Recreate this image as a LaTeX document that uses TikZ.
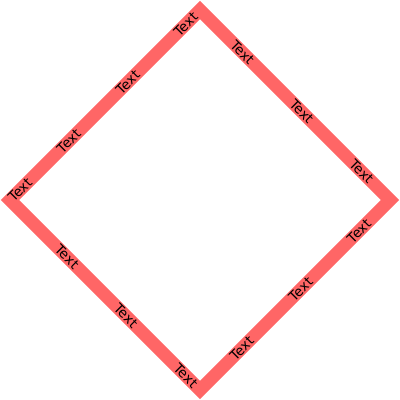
\documentclass[tikz,border=0pt]{standalone}
\usepackage{fontspec}
\setmainfont{DejaVu Sans}
\definecolor{edgered}{HTML}{FF6666}
\tikzset{
  edge/.style={draw=edgered, line width=13pt, line join=miter},
  lbl/.style={font=\fontsize{13.5}{14}\selectfont, inner sep=0pt, sloped}
}
\begin{document}
\begin{tikzpicture}[x=1pt,y=1pt]
\useasboundingbox (0,0) rectangle (400,400);
\coordinate (L) at (10,200);
\coordinate (T) at (200,390);
\coordinate (R) at (390,200);
\coordinate (B) at (200,10);
\draw[edge] (L) -- (T) -- (R) -- (B) -- cycle;
\path (L) -- (T)
  node[lbl,pos=0.053] (t1) {Text}
  node[lbl,pos=0.31] (t2) {Text}
  node[lbl,pos=0.62] (t3) {Text}
  node[lbl,pos=0.925] (t4) {Text};
\path (T) -- (R)
  node[lbl,pos=0.223] (t5) {Text}
  node[lbl,pos=0.535] (t6) {Text}
  node[lbl,pos=0.85] (t7) {Text};
\path (R) -- (B)
  node[lbl,pos=0.163] (t8) {Text}
  node[lbl,pos=0.47] (t9) {Text}
  node[lbl,pos=0.78] (t10) {Text};
\path (B) -- (L)
  node[lbl,pos=0.075] (t11) {Text}
  node[lbl,pos=0.39] (t12) {Text}
  node[lbl,pos=0.70] (t13) {Text};
\end{tikzpicture}
\end{document}
